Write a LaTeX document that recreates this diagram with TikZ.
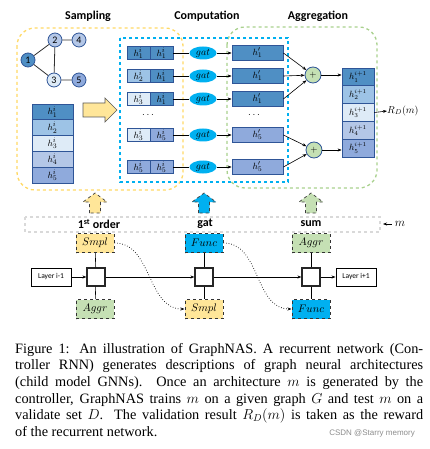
\documentclass[tikz,border=0pt]{standalone}
\usepackage{fontspec}
\setmainfont{Liberation Serif}
\newfontfamily\calib{Carlito}
\newfontfamily\wmfont{Liberation Sans}
\usepackage{tikz}
\usetikzlibrary{arrows.meta, shapes.geometric}
\usepackage{xcolor}
\definecolor{hone}{RGB}{79,143,196}
\definecolor{htwo}{RGB}{157,195,230}
\definecolor{hthree}{RGB}{222,235,247}
\definecolor{hfour}{RGB}{180,199,231}
\definecolor{hfive}{RGB}{143,170,220}
\definecolor{hborder}{RGB}{47,85,151}
\definecolor{smplyellow}{RGB}{255,230,153}
\definecolor{smplframe}{RGB}{255,217,102}
\definecolor{funcblue}{RGB}{0,176,240}
\definecolor{aggrgreen}{RGB}{197,224,180}
\definecolor{aggrframe}{RGB}{169,209,142}

\begin{document}
\begin{tikzpicture}[x=1pt,y=-1pt,
  title/.style={font=\calib\bfseries\fontsize{12}{12}\selectfont},
  gnode/.style={circle,draw=hborder,line width=0.8pt,minimum size=14pt,inner sep=0pt,font=\calib\fontsize{10}{10}\selectfont},
  hcell/.style={draw=hborder,line width=0.8pt,inner sep=0pt,font=\fontsize{9.5}{9.5}\selectfont},
  gatnode/.style={ellipse,fill=funcblue,minimum width=27pt,minimum height=13pt,inner sep=0pt,font=\fontsize{10}{10}\selectfont},
  plusnode/.style={circle,draw=hborder,fill=aggrgreen,line width=0.8pt,minimum size=16pt,inner sep=0pt,font=\fontsize{9}{9}\selectfont},
  ctrlbox/.style={draw=black!80,dashed,line width=1pt,minimum width=38pt,minimum height=19pt,inner sep=0pt,font=\fontsize{11}{11}\selectfont},
  cell/.style={draw=black!85,line width=1.2pt,minimum size=18pt,inner sep=0pt},
  layerbox/.style={draw=black,line width=0.9pt,fill=white,minimum width=40pt,minimum height=18pt,inner sep=0pt,font=\calib\fontsize{7.5}{7.5}\selectfont},
  link/.style={line width=0.6pt,-{Stealth[length=4pt,width=3pt]}},
  blockup/.style={dashed,draw=black!75,line width=0.7pt}
]
\useasboundingbox (0,0) rectangle (430,449);

% frames
\draw[smplframe,dashed,line width=1.3pt,rounded corners=18pt] (17,28) rectangle (183,190);
\draw[aggrframe,dashed,line width=1.3pt,rounded corners=18pt] (227,27) rectangle (377,188);
\draw[funcblue,dashed,line width=1.3pt] (120,38) rectangle (288,182);

\node[title] (samp) at (88,16) {Sampling};
\node[title] (comp) at (207,16) {Computation};
\node[title] (aggr) at (318,16) {Aggregation};

% graph G
\node[gnode,fill=hone] (g1) at (28,60) {1};
\node[gnode,fill=hfour] (g2) at (55,40) {2};
\node[gnode,fill=hfour] (g4) at (79,40) {4};
\node[gnode,fill=hthree] (g3) at (54,80) {3};
\node[gnode,fill=hfive] (g5) at (79,80) {5};
\draw[line width=0.8pt,black!80] (g1)--(g2) (g1)--(g3) (g2)--(g3) (g2)--(g4) (g3)--(g5);

% input features
\foreach \k/\col in {1/hone,2/htwo,3/hthree,4/hfour,5/hfive}
  \node[hcell,fill=\col,minimum width=41pt,minimum height=15.8pt] (in\k) at (52.5,{96.1+15.8*\k}) {$h_{\k}^{i}$};

% sampling arrow
\draw[fill=smplyellow,draw=black!65,line width=0.7pt] (83,103) -- (105,103) -- (105,98) -- (117,110) -- (105,122) -- (105,117) -- (83,117) -- cycle;

% neighbour pairs, gat, h'
\foreach \r/\y/\a/\ca/\b/\cb/\p/\cp in {1/53/1/hone/1/hone/1/hone, 2/76/2/htwo/1/hone/1/hone, 3/99/3/hthree/1/hone/1/hone, 4/135/3/hthree/5/hfive/5/hfive, 5/167/5/hfive/5/hfive/5/hfive}{
  \node[hcell,fill=\ca,minimum width=23pt,minimum height=13pt] (pa\r) at (138.5,\y) {$h_{\a}^{i}$};
  \node[hcell,fill=\cb,minimum width=23pt,minimum height=13pt] (pb\r) at (161.5,\y) {$h_{\b}^{i}$};
  \node[gatnode] (gat\r) at (203,\y) {$gat$};
  \node[hcell,fill=\cp,minimum width=51pt,minimum height=15pt] (hp\r) at (257.5,\y) {$h_{\p}'$};
  \draw[line width=0.7pt] (pb\r) -- (gat\r);
  \draw[link] (gat\r) -- (hp\r);
}
\node (dotsa) at (148,115) {$\ldots$};
\node (dotsb) at (254,115) {$\ldots$};

% aggregation
\node[plusnode] (plusa) at (313,75) {$+$};
\node[plusnode] (plusb) at (314,150) {$+$};
\foreach \k/\col in {1/hone,2/htwo,3/hthree,4/hfour,5/hfive}
  \node[hcell,fill=\col,minimum width=32pt,minimum height=17.8pt,font=\fontsize{9}{9}\selectfont] (out\k) at (358,{59.1+17.8*\k}) {$h_{\k}^{i+1}$};
\draw[link] (hp1.east) -- (plusa);
\draw[link] (hp2.east) -- (plusa);
\draw[link] (hp3.east) -- (plusa);
\draw[link] (hp4.east) -- (plusb);
\draw[link] (hp5.east) -- (plusb);
\draw[link] (plusa) -- (plusa -| out1.west);
\draw[link] (plusb) -- (plusb -| out5.west);
\node[anchor=west,inner sep=0pt,font=\fontsize{10}{10}\selectfont] (rd) at (387,111) {$R_D(m)$};
\draw[link] (out3.east) -- (rd.west);

% controller output
\foreach \cx/\col in {95/smplyellow,204/funcblue,311/aggrgreen}
  \draw[blockup,fill=\col] (\cx-5.5,213) -- (\cx-5.5,202) -- (\cx-12,202) -- (\cx,193) -- (\cx+12,202) -- (\cx+5.5,202) -- (\cx+5.5,213) -- cycle;
\draw[black!15,dashed,line width=1.3pt] (25,217) rectangle (380,232);
\node[title] (first) at (99,224) {1\textsuperscript{st} order};
\node[title] (gatl) at (205,224) {gat};
\node[title] (suml) at (311,224) {sum};
\node[inner sep=0pt,font=\fontsize{12}{12}\selectfont] (m) at (400,224) {$m$};
\draw[link] (m.west) ++(-3,0) -- (383,224);

% controller RNN
\node[ctrlbox,fill=smplyellow] (smpla) at (95,243) {$Smpl$};
\node[ctrlbox,fill=funcblue] (funca) at (204,243) {$Func$};
\node[ctrlbox,fill=aggrgreen] (aggra) at (311,243) {$Aggr$};
\node[layerbox] (lprev) at (51,277) {Layer i-1};
\node[cell] (sqa) at (96,277) {};
\node[cell] (sqb) at (204,277) {};
\node[cell] (sqc) at (311,277) {};
\node[layerbox] (lnext) at (356,277) {Layer i+1};
\node[ctrlbox,fill=aggrgreen] (aggrb) at (95,309) {$Aggr$};
\node[ctrlbox,fill=smplyellow] (smplb) at (204,309) {$Smpl$};
\node[ctrlbox,fill=funcblue] (funcb) at (311,309) {$Func$};
\draw[link] (lprev) -- (sqa);
\draw[link] (sqa) -- (sqb);
\draw[link] (sqb) -- (sqc);
\draw[link] (sqc) -- (lnext);
\draw[line width=0.6pt] (smpla) -- (sqa) (aggrb) -- (sqa);
\draw[line width=0.6pt] (funca) -- (sqb) (smplb) -- (sqb);
\draw[line width=0.6pt] (aggra) -- (sqc) (funcb) -- (sqc);
\draw[link,dotted,line width=0.8pt] (smpla.east) to[out=0,in=180] (smplb.west);
\draw[link,dotted,line width=0.8pt] (funca.east) to[out=0,in=180] (funcb.west);

% caption
\node[anchor=north west,inner sep=0pt,text width=408pt,align=justify,font=\fontsize{14.3}{16.6}\selectfont] (cap) at (15,343)
  {Figure 1: An illustration of GraphNAS. A recurrent network (Con-\linebreak
  troller RNN) generates descriptions of graph neural architectures\linebreak
  (child model GNNs). Once an architecture $m$ is generated by the\linebreak
  controller, GraphNAS trains $m$ on a given graph $G$ and test $m$ on a\linebreak
  validate set $D$. The validation result $R_D(m)$ is taken as the reward\linebreak
  of the recurrent network.};
\node[anchor=east,inner sep=0pt,text=black!45,font=\wmfont\fontsize{8}{8}\selectfont] (wm) at (415,433) {CSDN @Starry memory};
\end{tikzpicture}
\end{document}
